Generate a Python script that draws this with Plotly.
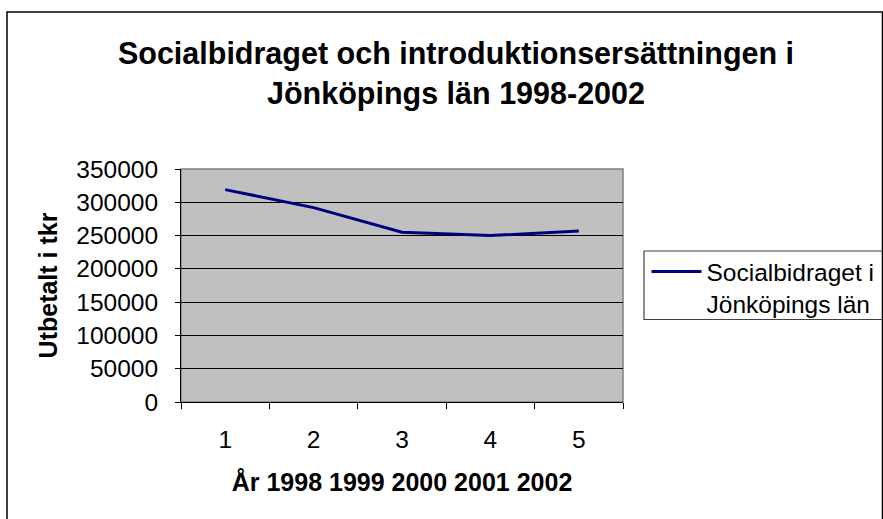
import plotly.graph_objects as go

# Data
categories = [1, 2, 3, 4, 5]
tick_labels = ["1", "2", "3", "4", "5"]
values = [319000, 292000, 255000, 250000, 257000]
series_name = "Socialbidraget i<br>Jönköpings län"

W, H = 883, 519
L, R, T, B = 181, 260, 169, 117
PW, PH = W - L - R, H - T - B

def px(x):
    return (x - L) / PW

def py(y):
    return (H - B - y) / PH

FONT = "Liberation Sans, Arial, sans-serif"

fig = go.Figure()
fig.add_trace(go.Scatter(
    x=categories, y=values, mode="lines", name=series_name,
    line=dict(color="#000080", width=3),
))

fig.update_layout(
    width=W, height=H,
    margin=dict(l=L, r=R, t=T, b=B, autoexpand=False),
    paper_bgcolor="white",
    plot_bgcolor="#C0C0C0",
    font=dict(family=FONT, size=24, color="black"),
    title=dict(
        text="<b>Socialbidraget och introduktionsersättningen i<br>Jönköpings län 1998-2002</b>",
        x=456 / W, xanchor="center", xref="container",
        y=1 - 64 / H, yanchor="top", yref="container",
        font=dict(family=FONT, size=30.5, color="black"),
    ),
    showlegend=True,
    legend=dict(
        x=px(646.5), y=py(249), xanchor="left", yanchor="top",
        bgcolor="rgba(0,0,0,0)", borderwidth=0,
        font=dict(family=FONT, size=24.5, color="black"),
        valign="top",
        itemwidth=50,
    ),
    xaxis=dict(
        range=[0.5, 5.5],
        tickmode="array", tickvals=categories, ticktext=tick_labels,
        ticks="", showgrid=False, zeroline=False,
        showline=True, linecolor="black", linewidth=1,
        minor=dict(tickmode="linear", tick0=0.5, dtick=1, ticks="outside",
                   ticklen=6, tickcolor="black", tickwidth=1, showgrid=False),
        ticklabelstandoff=16,
        tickfont=dict(size=24.5),
        title=dict(text="<b>År 1998 1999 2000 2001 2002</b>",
                   font=dict(size=25), standoff=21),
        fixedrange=True,
    ),
    yaxis=dict(
        range=[0, 350000],
        tickmode="linear", tick0=0, dtick=50000,
        tickformat="d",
        ticks="outside", ticklen=5, tickcolor="black", tickwidth=1,
        showgrid=True, gridcolor="black", gridwidth=1,
        zeroline=False,
        showline=True, linecolor="black", linewidth=1,
        ticklabelstandoff=12,
        tickfont=dict(size=24.5),
        title=dict(text="<b>Utbetalt i tkr</b>", font=dict(size=25), standoff=11),
        fixedrange=True,
    ),
    shapes=[
        dict(type="rect", xref="paper", yref="paper", x0=0, y0=0, x1=1, y1=1,
             line=dict(color="#808080", width=1.5), layer="below"),
        dict(type="rect", xref="paper", yref="paper",
             x0=px(7), y0=py(540), x1=px(882.5), y1=py(12),
             line=dict(color="black", width=1.5)),
        dict(type="rect", xref="paper", yref="paper",
             x0=px(644), y0=py(319.5), x1=px(900), y1=py(251),
             line=dict(color="#404040", width=1.2)),
    ],
)

fig.write_html(
    "out.html",
    config={"displayModeBar": False},
    post_script="document.body.style.margin='0';document.body.style.overflow='hidden';",
)
